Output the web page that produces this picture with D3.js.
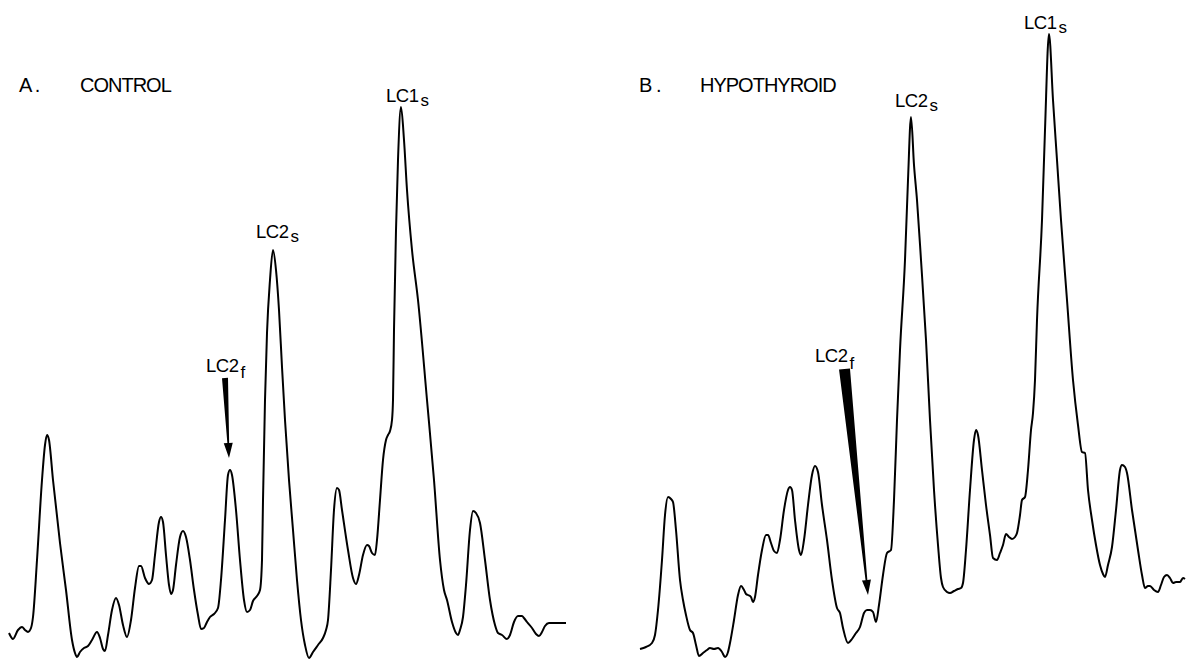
<!DOCTYPE html>
<html>
<head>
<meta charset="utf-8">
<script src="https://cdn.jsdelivr.net/npm/d3@7"></script>
<style>
  html, body { margin: 0; padding: 0; background: #fff; }
  svg { display: block; }
  text { font-family: "Liberation Sans", Arial, sans-serif; fill: #000; }
</style>
</head>
<body>
<div id="chart"></div>
<script>
// Densitometer scans of myosin light chains (arbitrary units)
// distance along gel (x) and absorbance (y)

const distA = [1,5,10,14,17,20,23,25,29,34,37,39,41,45,52,58,64,67,69,72,76,80,84,89,92,95,97,100,104,108,111,115,119,123,127,131,133,137,141,144,147,151,153,155,158,161,163,165,168,172,175,178,182,186,190,193,196,199,202,206,210,213,217,220,222,224,228,232,236,239,242,245,249,252,254,255,257,259,262,265,268,271,274,277,281,285,289,293,297,301,305,310,315,318,320,323,326,329,331,334,340,345,348,351,355,359,361,364,367,369,372,375,378,380,382,384,385,386,388,390,393,396,399,404,410,419,426,432,436,439,444,448,450,452,455,458,462,465,468,472,477,482,487,490,494,499,502,506,510,514,516,519,524,528,531,534,537,541,548,558];
const absA = [27,21,30,33,30,28,32,43,100,180,215,225,220,180,117,70,20,7,3,8,12,14,20,28,22,11,9,25,50,62,55,35,23,40,72,94,94,82,76,80,105,138,143,138,105,75,66,70,95,123,129,123,100,70,45,31,32,38,43,46,52,80,140,185,190,185,150,100,60,48,50,59,64,70,100,160,260,327,380,410,390,350,293,240,180,130,80,40,15,2,8,15,22,30,40,90,150,172,170,150,110,82,76,85,105,115,114,107,105,120,160,200,220,225,229,240,260,330,430,500,553,520,470,410,360,260,180,100,70,60,38,27,25,30,43,75,130,149,147,137,100,60,35,27,25,21,25,38,44,44,42,38,32,26,24,28,34,37,37,37];

const distB = [12,18,24,27,30,34,37,40,43,45,48,52,55,58,62,65,68,71,75,79,82,86,90,94,97,100,102,106,110,113,116,118,120,123,125,127,130,134,138,140,143,146,149,152,156,160,162,164,167,171,173,176,180,184,187,190,194,199,204,209,212,215,220,224,228,232,236,239,242,245,248,251,255,259,263,266,269,272,277,280,283,286,289,293,298,302,306,310,313,315,319,322,326,330,333,335,338,342,346,348,350,354,358,362,365,369,372,375,378,381,384,387,389,392,394,397,400,403,405,407,409,414,417,421,425,429,433,439,445,450,454,457,460,464,468,472,475,477,480,484,488,492,494,497,499,504,510,514,517,520,522,526,530,533,536,539,542,545,548,552,555,557];
const absB = [11,13,17,25,50,100,145,163,161,158,130,80,60,45,30,27,15,4,7,10,12,11,12,8,3,8,17,40,65,74,70,66,65,63,58,63,85,110,125,125,117,109,107,120,150,170,173,170,140,110,105,120,155,185,194,188,155,120,80,52,47,32,17,21,27,33,47,50,50,48,38,55,85,107,110,160,240,310,400,480,543,495,460,400,320,240,170,115,82,73,68,67,69,71,72,77,110,170,220,230,225,190,155,125,102,100,107,115,126,123,121,123,127,145,160,163,190,230,247,280,340,440,530,626,560,500,440,360,280,235,208,207,170,140,115,95,86,83,95,113,150,190,195,193,187,150,110,85,72,74,74,70,68,75,83,85,82,77,78,78,82,81];

// peak labels: name, subscript, panel, text anchor point (data units), subscript shift
const labelText = ["LC2", "LC1", "LC2", "LC2", "LC1", "LC2"];
const labelSub = ["s", "s", "f", "s", "s", "f"];
const labelPanel = ["A", "A", "A", "B", "B", "B"];
const labelDist = [248, 378, 198, 267, 396, 187];
const labelAbs = [422, 558, 288, 553, 631, 298];
const labelShift = [4, 4, 6, 4, 4, 7];

// LC2f arrows: from top of wedge to tip
const arrowPanel = ["A", "B"];
const arrowDist0 = [217, 216.5];
const arrowAbs0 = [282, 291];
const arrowDist1 = [221, 240];
const arrowAbs1 = [202, 65];
const arrowWidth = [6, 11];

const panels = [
  { id: "A", letter: "A .", title: "CONTROL", left: 8, dist: distA, abs: absA },
  { id: "B", letter: "B .", title: "HYPOTHYROID", left: 628, dist: distB, abs: absB }
];

const width = 1186, height = 660;
const svg = d3.select("#chart").append("svg")
  .attr("width", width).attr("height", height);

const y = d3.scaleLinear().domain([0, 630]).range([660, 30]);
const xScales = {};
panels.forEach(p => {
  xScales[p.id] = d3.scaleLinear().domain([0, 560]).range([p.left, p.left + 560]);
});

panels.forEach(p => {
  const x = xScales[p.id];
  const pts = p.dist.map((d, i) => [d, p.abs[i]]);

  const line = d3.line()
    .x(d => x(d[0]))
    .y(d => y(d[1]))
    .curve(d3.curveMonotoneX);

  svg.append("path")
    .datum(pts)
    .attr("d", line)
    .attr("fill", "none")
    .attr("stroke", "#000")
    .attr("stroke-width", 2)
    .attr("stroke-linejoin", "round");

  // panel heading
  svg.append("text")
    .attr("x", p.left + 11).attr("y", 92)
    .attr("font-size", 20).attr("letter-spacing", -1)
    .text(p.letter);
  svg.append("text")
    .attr("x", p.left + 72).attr("y", 92)
    .attr("font-size", 20).attr("letter-spacing", -1)
    .text(p.title);
});

// peak labels with subscripts
labelText.forEach((t, i) => {
  const x = xScales[labelPanel[i]];
  const txt = svg.append("text")
    .attr("x", x(labelDist[i])).attr("y", y(labelAbs[i]))
    .attr("font-size", 18.5).attr("letter-spacing", -0.5);
  txt.append("tspan").text(t);
  txt.append("tspan")
    .attr("dx", 2).attr("dy", labelShift[i])
    .attr("font-size", 17)
    .text(labelSub[i]);
});

// tapered arrows
arrowPanel.forEach((pid, i) => {
  const x = xScales[pid];
  const x0 = x(arrowDist0[i]), y0 = y(arrowAbs0[i]);
  const x1 = x(arrowDist1[i]), y1 = y(arrowAbs1[i]);
  const len = Math.hypot(x1 - x0, y1 - y0);
  const ux = (x1 - x0) / len, uy = (y1 - y0) / len;
  const nx = -uy, ny = ux;
  const headLen = 15, headW = 4.5, neckW = 0.9, topW = arrowWidth[i] / 2;
  const bx = x1 - ux * headLen, by = y1 - uy * headLen;
  const poly = [
    [x0 + nx * topW, y0 + ny * topW],
    [bx + nx * neckW, by + ny * neckW],
    [bx + nx * headW, by + ny * headW],
    [x1, y1],
    [bx - nx * headW, by - ny * headW],
    [bx - nx * neckW, by - ny * neckW],
    [x0 - nx * topW, y0 - ny * topW]
  ];
  svg.append("path")
    .attr("d", "M" + poly.map(d => d.join(",")).join("L") + "Z")
    .attr("fill", "#000");
});
</script>
</body>
</html>
